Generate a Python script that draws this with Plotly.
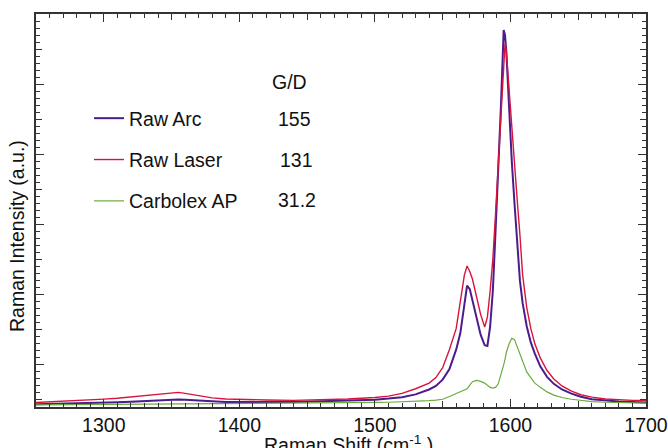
import plotly.graph_objects as go

# ---- data ----
shift = [1250, 1270, 1290, 1300, 1310, 1320, 1330, 1340, 1350, 1355, 1360, 1370, 1380, 1390,
         1400, 1420, 1440, 1460, 1480, 1500, 1510, 1520, 1530, 1540, 1545, 1550, 1555, 1560,
         1563, 1566, 1568, 1570, 1572, 1575, 1578, 1581, 1583, 1585, 1587, 1589, 1591, 1593,
         1595, 1596, 1597, 1599, 1601, 1603, 1605, 1607, 1609, 1612, 1615, 1618, 1622, 1627,
         1632, 1638, 1645, 1652, 1660, 1670, 1680, 1690, 1700]

raw_arc = [0.38, 0.45, 0.55, 0.63, 0.68, 0.75, 0.85, 0.95, 1.05, 1.08, 1.02, 0.90, 0.80, 0.73,
           0.70, 0.68, 0.72, 0.82, 0.92, 1.05, 1.20, 1.40, 1.80, 2.50, 3.00, 3.90, 5.40, 8.20,
           10.5, 15.0, 17.3, 16.8, 15.2, 12.6, 10.3, 8.8, 8.7, 11.4, 16.5, 25.0, 33.5, 43.0,
           53.7, 53.0, 50.5, 42.0, 35.0, 29.0, 23.0, 18.0, 14.8, 11.5, 9.2, 7.6, 5.8, 4.3,
           3.3, 2.5, 1.9, 1.45, 1.1, 0.90, 0.78, 0.70, 0.65]

raw_laser = [0.65, 0.80, 1.00, 1.12, 1.25, 1.42, 1.60, 1.80, 2.00, 2.08, 1.95, 1.60, 1.30, 1.15,
             1.08, 1.00, 0.95, 1.00, 1.15, 1.35, 1.55, 1.95, 2.60, 3.40, 4.20, 5.60, 8.20, 11.2,
             15.0, 18.8, 20.1, 19.3, 18.2, 15.8, 13.2, 11.4, 12.8, 16.5, 21.0, 27.5, 34.5, 42.0,
             49.5, 51.8, 50.5, 45.0, 39.5, 33.5, 29.5, 24.5, 18.8, 14.2, 11.2, 9.0, 7.0, 5.2,
             4.0, 3.0, 2.25, 1.75, 1.40, 1.15, 1.00, 0.95, 0.92]

carbolex = [0.30, 0.32, 0.35, 0.36, 0.37, 0.38, 0.40, 0.42, 0.45, 0.46, 0.46, 0.45, 0.44, 0.44,
            0.45, 0.47, 0.50, 0.55, 0.60, 0.65, 0.68, 0.72, 0.80, 0.90, 0.98, 1.10, 1.50, 1.90,
            2.10, 2.35, 2.60, 3.10, 3.60, 3.78, 3.65, 3.40, 3.10, 2.80, 2.70, 2.80, 3.30, 4.50,
            6.00, 6.80, 7.80, 9.00, 9.80, 9.60, 8.60, 7.50, 6.40, 5.00, 4.20, 3.40, 2.80, 2.15,
            1.70, 1.35, 1.10, 0.90, 0.78, 0.68, 0.62, 0.58, 0.56]

series_names = ["Raw Arc", "Raw Laser", "Carbolex AP"]
gd_header = "G/D"
gd_ratios = ["155", "131", "31.2"]
x_ticks = [1300, 1400, 1500, 1600, 1700]

# ---- figure ----
W, H = 668, 448
L, R, T, B = 36, 22, 14, 41
PW, PH = W - L - R, H - T - B

def fx(px):
    return (px - L) / PW

def fy(py):
    return (H - B - py) / PH

FONT = "Liberation Sans, Arial, sans-serif"
FS = 19.5
TXT = "#111111"
AX = "#333333"

colors = ["#4b1c8c", "#d9143c", "#6cab3c"]
widths = [2.0, 1.4, 1.2]

fig = go.Figure()
for name, ys, c, w, g in zip(series_names, [raw_arc, raw_laser, carbolex], colors, widths, ["a", "b", "c"]):
    fig.add_trace(go.Scatter(x=shift, y=ys, mode="lines", name=name, legendgroup=g,
                             line=dict(color=c, width=w), hoverinfo="skip"))

# helper trace for the secondary (medium-tick) axes
fig.add_trace(go.Scatter(x=[], y=[], xaxis="x2", yaxis="y2", showlegend=False, hoverinfo="skip"))

common = dict(showline=True, linecolor=AX, linewidth=1.5, mirror="ticks", ticks="inside",
              tickcolor=AX, showgrid=False, zeroline=False, automargin=False)

fig.update_layout(
    width=W, height=H,
    margin=dict(l=L, r=R, t=T, b=B),
    paper_bgcolor="white", plot_bgcolor="white",
    font=dict(family=FONT, size=FS, color=TXT),
    xaxis=dict(range=[1250, 1700], tickvals=x_ticks, ticklen=8, tickwidth=1.2,
               tickfont=dict(size=FS, family=FONT, color=TXT),
               minor=dict(dtick=10, tick0=1250, ticklen=4, tickcolor=AX, ticks="inside", tickwidth=1),
               **common),
    yaxis=dict(range=[0, 56], tick0=6, dtick=10, ticklen=8, tickwidth=1.2, showticklabels=False,
               minor=dict(dtick=1, tick0=0, ticklen=4, tickcolor=AX, ticks="inside", tickwidth=1),
               **common),
    xaxis2=dict(range=[1250, 1700], overlaying="x", anchor="y2", tick0=1250, dtick=100,
                ticklen=6, tickwidth=1, showticklabels=False, **common),
    yaxis2=dict(range=[0, 56], overlaying="y", anchor="x2", tick0=1, dtick=10,
                ticklen=6, tickwidth=1, showticklabels=False, **common),
    showlegend=True,
    legend=dict(x=fx(89), y=fy(99), xanchor="left", yanchor="top", bgcolor="rgba(0,0,0,0)",
                font=dict(size=FS, family=FONT, color=TXT), tracegroupgap=13,
                itemwidth=30),
)

annotations = [
    dict(text=gd_header, x=fx(289), y=fy(81.5)),
]
for txt, px, py in zip(gd_ratios, [294.5, 296, 296.5], [119, 159.5, 200]):
    annotations.append(dict(text=txt, x=fx(px), y=fy(py)))
annotations.append(dict(text="Raman Intensity (a.u.)", x=fx(17), y=fy(236), textangle=-90))
annotations.append(dict(text="Raman Shift (cm<sup>-1</sup> )", x=fx(349), y=fy(444)))

for a in annotations:
    a.update(xref="paper", yref="paper", showarrow=False, xanchor="center", yanchor="middle",
             font=dict(size=FS, family=FONT, color=TXT))
fig.update_layout(annotations=annotations)

fig.write_html("out.html", config={"displayModeBar": False},
               post_script="document.body.style.margin='0';document.body.style.overflow='hidden';")
